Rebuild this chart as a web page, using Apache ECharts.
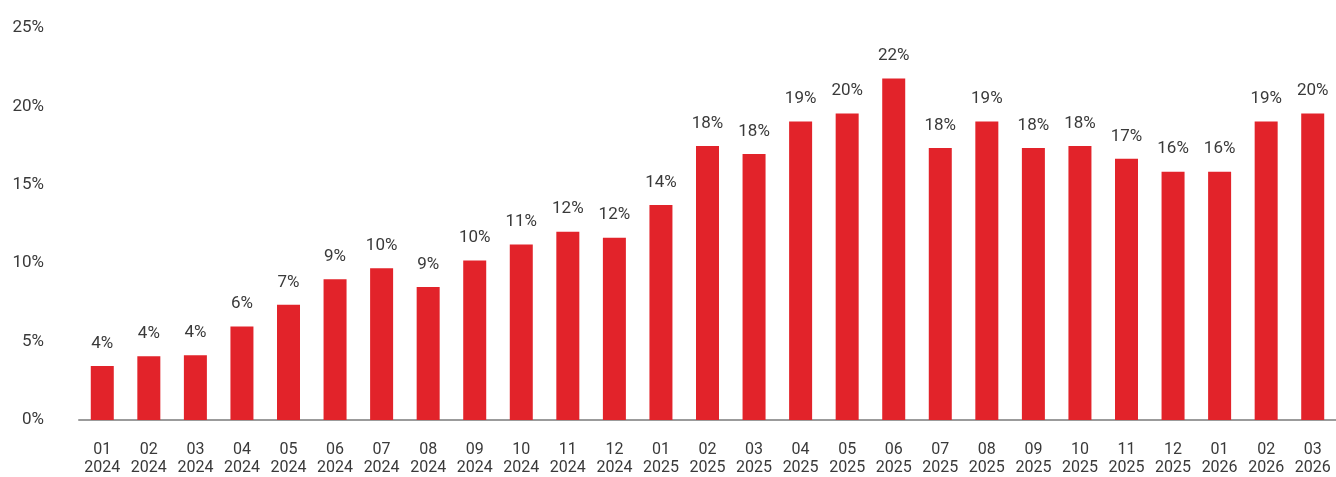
<!DOCTYPE html>
<html>
<head>
<meta charset="utf-8">
<script src="https://cdn.jsdelivr.net/npm/echarts@6/dist/echarts.min.js"></script>
<style>
html,body{margin:0;padding:0;background:#fff;}
#chart{width:1336px;height:477px;}
</style>
</head>
<body>
<div id="chart"></div>
<script>
const categories = ["01\n2024","02\n2024","03\n2024","04\n2024","05\n2024","06\n2024","07\n2024","08\n2024","09\n2024","10\n2024","11\n2024","12\n2024",
  "01\n2025","02\n2025","03\n2025","04\n2025","05\n2025","06\n2025","07\n2025","08\n2025","09\n2025","10\n2025","11\n2025","12\n2025",
  "01\n2026","02\n2026","03\n2026"];
const values = [3.44,4.07,4.13,5.96,7.35,8.98,9.68,8.48,10.18,11.19,12.01,11.63,
  13.71,17.48,16.97,19.04,19.55,21.78,17.35,19.04,17.35,17.48,16.66,15.84,
  15.84,19.04,19.55];
const valueLabels = ["4%","4%","4%","6%","7%","9%","10%","9%","10%","11%","12%","12%",
  "14%","18%","18%","19%","20%","22%","18%","19%","18%","18%","17%","16%",
  "16%","19%","20%"];
const yTicks = [0,5,10,15,20,25];

const chart = echarts.init(document.getElementById('chart'));
const FONT = 'Roboto, "Noto Sans", sans-serif';
chart.setOption({
  animation: false,
  grid: {left: 79, width: 1265, top: 28, height: 396.5, containLabel: false},
  xAxis: {
    type: 'category',
    data: categories,
    axisTick: {show: false},
    axisLine: {show: true, lineStyle: {color: '#9b9b9b', width: 2}},
    axisLabel: {color: '#3a3a3a', fontSize: 16, fontFamily: FONT, lineHeight: 18, margin: 21, interval: 0}
  },
  yAxis: {
    type: 'value',
    min: yTicks[0],
    max: yTicks[yTicks.length - 1],
    interval: 5,
    splitLine: {show: false},
    axisLine: {show: false},
    axisTick: {show: false},
    axisLabel: {color: '#3a3a3a', fontSize: 17, fontFamily: FONT, margin: 35,
      padding: [0,0,22,0], formatter: v => v + '%'}
  },
  series: [{
    type: 'bar',
    data: values,
    barWidth: 23,
    itemStyle: {color: '#e2232a'},
    label: {
      show: true,
      position: 'top',
      distance: 14,
      color: '#3a3a3a',
      fontSize: 17,
      fontFamily: FONT,
      formatter: p => valueLabels[p.dataIndex]
    }
  }]
});
</script>
</body>
</html>
